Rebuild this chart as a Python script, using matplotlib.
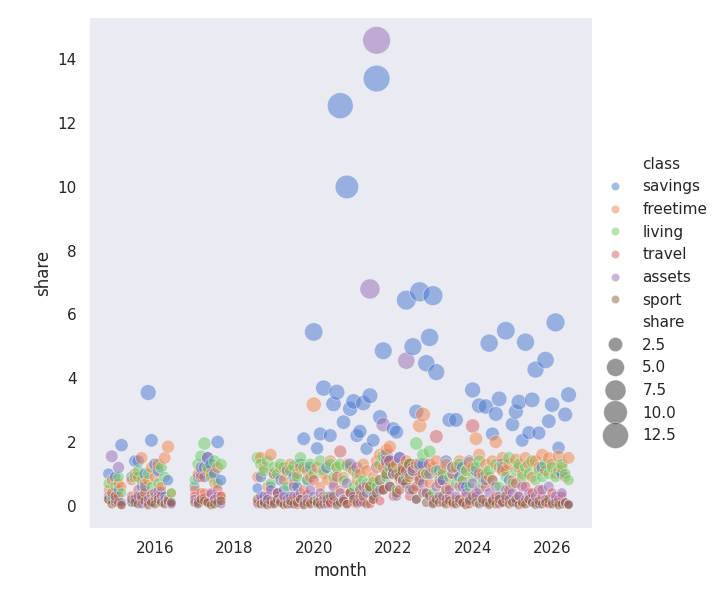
import numpy as np
import pandas as pd
import matplotlib
matplotlib.use("Agg")
import matplotlib.pyplot as plt
import matplotlib.dates as mdates
import seaborn as sns

# month segments present in the data
seg_ranges = [("2014-11-01", "2015-03-01"), ("2015-06-01", "2016-06-01"),
              ("2017-01-01", "2017-09-01"), ("2018-08-01", "2026-06-01")]

classes = ["savings", "freetime", "living", "travel", "assets", "sport"]

savings = [1.0, 0.2, 0.9, 0.5, 1.9,
           0.9, 1.4, 1.4, 0.6, 1.0, 3.55, 2.05, 1.3, 1.1, 0.45, 0.3, 0.8, 0.1,
           0.6, 0.9, 1.0, 1.2, 1.5, 1.3, 1.0, 2.0, 0.8,
           0.55, 0.9, 0.3, 0.2, 0.6, 1.0, 0.4, 0.8, 0.5, 1.1,
           0.3, 0.9, 0.6, 1.3, 2.1, 0.8, 1.2, 5.45, 1.8, 2.25,
           3.69, 1.2, 2.2, 3.19, 3.56, 12.55, 2.62, 10.0, 3.04, 3.27,
           2.2, 2.33, 3.22, 1.79, 3.45, 2.05, 13.4, 2.78, 4.86, 1.6,
           1.4, 2.41, 2.31, 1.5, 1.2, 6.45, 1.0, 4.99, 2.95, 6.71,
           1.3, 4.47, 5.28, 6.59, 4.19, 1.1, 0.8, 1.4, 2.69, 1.0,
           2.69, 0.9, 1.2, 0.6, 1.4, 3.63, 1.1, 3.14, 0.9, 3.11,
           5.1, 2.25, 2.88, 3.35, 1.3, 5.49, 0.8, 2.55, 2.95, 3.25,
           2.05, 5.13, 2.29, 3.32, 4.27, 2.28, 1.2, 4.57, 2.65, 3.17,
           5.75, 1.82, 1.0, 2.86, 3.48]

freetime = [0.5, 0.8, 0.3, 0.7, 0.6,
            0.8, 1.0, 0.9, 1.5, 0.7, 0.8, 1.2, 0.9, 1.3, 0.6, 1.5, 1.85, 0.4,
            0.5, 1.0, 0.9, 0.4, 1.1, 1.0, 0.7, 1.2, 0.3,
            0.9, 1.5, 1.2, 0.6, 1.6, 1.0, 0.4, 1.2, 0.8, 1.1,
            1.3, 0.7, 1.0, 1.2, 0.5, 1.1, 0.9, 3.17, 1.2, 0.6,
            1.0, 0.8, 1.4, 0.7, 1.2, 0.5, 0.9, 1.3, 0.4, 1.1,
            0.8, 1.0, 1.3, 1.1, 0.6, 0.9, 1.4, 1.6, 1.2, 1.75,
            1.85, 1.0, 1.3, 0.8, 1.2, 1.4, 0.9, 1.1, 1.3, 2.51,
            2.86, 1.0, 0.7, 1.2, 1.4, 0.9, 1.1, 1.3, 0.6, 1.0,
            1.2, 1.4, 0.8, 1.1, 1.35, 1.2, 2.1, 1.6, 1.0, 1.3,
            0.9, 1.4, 2.0, 1.2, 1.5, 1.1, 1.3, 0.8, 1.45, 1.2,
            1.0, 1.5, 1.3, 0.9, 1.4, 1.2, 1.6, 1.1, 1.5, 1.3,
            1.0, 1.55, 1.2, 0.9, 1.5]

living = [0.7, 0.3, 0.6, 0.9, 0.4,
          0.1, 0.9, 1.1, 0.8, 0.5, 1.0, 0.6, 0.3, 0.7, 1.2, 0.9, 0.2, 0.4,
          0.8, 1.3, 1.55, 1.95, 1.2, 0.9, 1.4, 0.7, 1.3,
          1.5, 1.3, 1.1, 1.4, 0.7, 1.2, 1.0, 1.3, 1.2, 0.6,
          1.1, 1.25, 0.9, 1.5, 1.2, 0.8, 1.3, 1.0, 0.2, 1.4,
          1.1, 0.3, 1.3, 0.9, 1.2, 1.3, 0.8, 1.25, 1.2, 0.6,
          1.0, 0.7, 0.8, 0.7, 0.5, 0.75, 0.6, 1.3, 1.55, 0.9,
          1.2, 1.0, 0.5, 1.1, 0.8, 0.9, 1.3, 1.1, 1.95, 1.2,
          1.6, 1.0, 1.7, 0.4, 1.1, 0.8, 1.0, 0.5, 0.9, 1.2,
          0.7, 1.3, 0.8, 1.1, 0.6, 0.9, 1.2, 1.4, 0.7, 1.0,
          1.1, 0.8, 1.3, 0.6, 1.2, 0.9, 1.5, 0.7, 1.1, 1.3,
          0.9, 1.2, 1.0, 1.4, 0.8, 1.1, 0.9, 1.3, 1.0, 1.2,
          0.9, 1.1, 1.3, 1.0, 0.8]

travel = [0.2, 0.4, 0.1, 0.3, 0.03,
          0.3, 0.25, 0.5, 0.2, 0.4, 0.1, 0.35, 0.2, 0.45, 0.3, 0.1, 0.2, 0.05,
          0.3, 0.15, 0.4, 0.25, 0.1, 0.35, 0.2, 0.5, 0.3,
          0.05, 0.2, 0.1, 0.3, 0.05, 0.15, 0.4, 0.1, 0.25, 0.05,
          0.1, 0.3, 0.03, 0.2, 0.05, 0.35, 0.1, 0.8, 0.05, 0.2,
          0.3, 0.1, 0.05, 0.15, 0.9, 1.7, 0.2, 0.05, 0.4, 0.1,
          0.05, 0.3, 0.1, 0.6, 0.05, 0.2, 1.2, 0.15, 0.5, 1.3,
          1.4, 0.3, 1.0, 0.5, 0.8, 1.1, 0.3, 1.2, 0.6, 0.9,
          1.0, 0.4, 1.3, 0.2, 2.17, 0.7, 0.1, 0.5, 0.3, 0.05,
          0.2, 0.6, 0.1, 0.3, 0.05, 2.5, 0.4, 1.0, 0.2, 0.6,
          0.1, 0.8, 0.3, 0.05, 1.1, 0.2, 0.5, 0.1, 0.7, 0.3,
          0.05, 0.6, 0.2, 0.4, 0.1, 0.5, 0.3, 0.1, 0.05, 0.4,
          0.2, 0.1, 0.3, 0.05, 0.03]

assets = [0.3, 1.55, 0.2, 1.2, 0.1,
          0.1, 0.2, 0.3, 0.05, 0.6, 0.2, 0.1, 0.4, 0.3, 0.15, 0.2, 0.1, 0.05,
          0.2, 0.1, 1.2, 0.9, 1.5, 0.4, 0.2, 0.3, 0.05,
          0.1, 0.3, 0.05, 0.2, 0.5, 0.1, 0.4, 0.15, 0.3, 0.2,
          0.05, 0.6, 0.3, 0.4, 0.1, 0.2, 0.5, 0.3, 0.1, 0.4,
          0.2, 0.05, 0.3, 0.6, 0.1, 0.4, 0.2, 0.7, 1.3, 0.3,
          1.2, 0.1, 0.6, 0.4, 6.8, 0.3, 14.6, 0.5, 2.54, 1.4,
          0.6, 1.0, 0.3, 1.5, 0.8, 4.55, 0.5, 1.1, 0.2, 1.3,
          0.7, 0.4, 1.0, 0.1, 0.6, 0.3, 0.8, 0.2, 0.5, 1.2,
          0.3, 0.1, 0.6, 0.4, 0.2, 0.7, 0.3, 0.5, 0.1, 0.8,
          0.4, 0.2, 0.6, 0.3, 0.1, 0.5, 0.2, 0.4, 0.1, 0.3,
          0.6, 0.2, 0.4, 0.1, 0.3, 0.05, 0.5, 0.2, 0.6, 0.1,
          0.3, 0.2, 0.4, 0.1, 0.05]

sport = [0.2, 0.05, 0.3, 0.1, 0.02,
         0.2, 0.1, 0.05, 0.3, 0.15, 0.02, 0.1, 0.05, 0.2, 0.1, 0.05, 0.15, 0.1,
         0.1, 0.05, 0.2, 0.15, 0.1, 0.02, 0.05, 0.1, 0.15,
         0.2, 0.05, 0.1, 0.02, 0.15, 0.05, 0.2, 0.1, 0.03, 0.05,
         0.15, 0.05, 0.1, 0.2, 0.02, 0.1, 0.05, 0.15, 0.1, 0.03,
         0.05, 0.2, 0.1, 0.3, 0.02, 0.1, 0.15, 0.05, 0.4, 0.2,
         0.1, 0.5, 0.3, 0.05, 0.6, 0.2, 0.4, 0.8, 0.5, 1.0,
         0.6, 1.2, 0.4, 0.9, 1.1, 0.7, 1.3, 0.5, 0.2, 0.8,
         0.4, 0.1, 0.3, 0.05, 0.2, 0.1, 0.3, 0.05, 0.15, 0.1,
         0.05, 0.2, 0.1, 0.02, 0.15, 0.3, 0.1, 0.05, 0.2, 0.1,
         0.03, 0.15, 0.05, 0.2, 0.1, 0.3, 0.05, 0.1, 0.2, 0.02,
         0.1, 0.05, 0.2, 0.1, 0.03, 0.15, 0.05, 0.1, 0.2, 0.05,
         0.1, 0.02, 0.05, 0.1, 0.03]

months = pd.DatetimeIndex(np.concatenate(
    [pd.date_range(a, b, freq="MS").values for a, b in seg_ranges]))

series = dict(zip(classes, [savings, freetime, living, travel, assets, sport]))
rows = []
for i, m in enumerate(months):
    for c in classes:
        rows.append((m, c, series[c][i]))
df = pd.DataFrame(rows, columns=["month", "class", "share"])

sns.set_theme(style="dark")
fig = plt.figure(figsize=(7.2, 6), dpi=100)
ax = fig.add_axes([0.125, 0.12, 0.697, 0.85])
sns.scatterplot(data=df, x="month", y="share", hue="class", size="share",
                hue_order=classes, palette="muted", sizes=(45, 400),
                alpha=0.5, ax=ax)
ax.xaxis.set_major_locator(mdates.YearLocator(2))
ax.xaxis.set_major_formatter(mdates.DateFormatter("%Y"))
ax.set_xlim(pd.Timestamp("2014-05-15"), pd.Timestamp("2027-01-01"))
ax.set_ylim(-0.7, 15.3)
ax.set_yticks([0, 2, 4, 6, 8, 10, 12, 14])
for s in ax.spines.values():
    s.set_visible(False)
sns.move_legend(ax, loc="center left", bbox_to_anchor=(0.988, 0.447), frameon=False)
fig.savefig("out.png", dpi=100)
